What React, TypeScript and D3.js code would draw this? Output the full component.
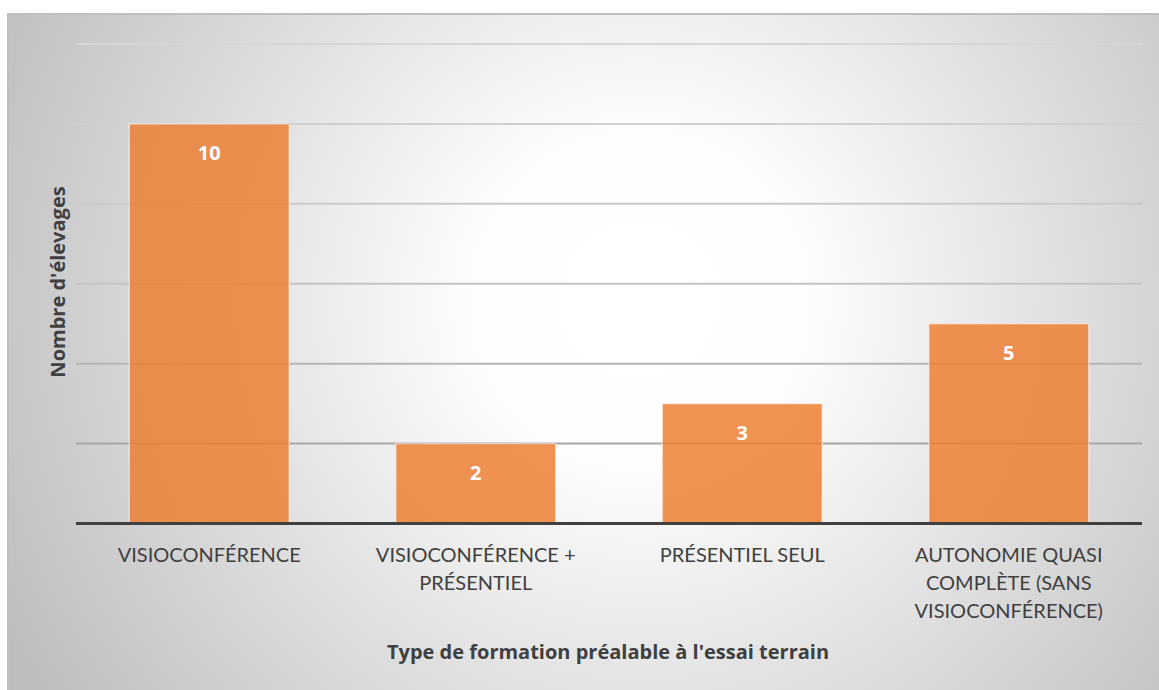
import React from "react";
import * as d3 from "d3";

const categories: string[][] = [
  ["VISIOCONFÉRENCE"],
  ["VISIOCONFÉRENCE +", "PRÉSENTIEL"],
  ["PRÉSENTIEL SEUL"],
  ["AUTONOMIE QUASI", "COMPLÈTE (SANS", "VISIOCONFÉRENCE)"],
];
const values: number[] = [10, 2, 3, 5];
const gridTicks: number[] = [0, 2, 4, 6, 8, 10, 12];
const xTitle = "Type de formation préalable à l'essai terrain";
const yTitle = "Nombre d'élevages";

const W = 1159;
const H = 690;
const FONT = "Lato, 'Open Sans', sans-serif";
const BOLD = "'Open Sans', Lato, sans-serif";

export default function App() {
  const left = 76;
  const right = 1142;
  const top = 44;
  const bottom = 523.5;

  const x = d3
    .scaleBand<number>()
    .domain(d3.range(values.length))
    .range([left, right])
    .paddingInner(0.4)
    .paddingOuter(0.2);
  const y = d3.scaleLinear().domain([0, 12]).range([bottom, top]);

  return (
    <svg
      width={W}
      height={H}
      style={{ position: "absolute", left: 0, top: 0, background: "#fff" }}
    >
      <defs>
        <radialGradient
          id="bg"
          gradientUnits="userSpaceOnUse"
          cx={640}
          cy={300}
          r={720}
        >
          <stop offset="0" stopColor="#ffffff" />
          <stop offset="0.22" stopColor="#fefefe" />
          <stop offset="1" stopColor="#bdbdbd" />
        </radialGradient>
        <linearGradient
          id="gridGrad"
          gradientUnits="userSpaceOnUse"
          x1={0}
          y1={top}
          x2={0}
          y2={bottom}
        >
          <stop offset="0" stopColor="#d6d6d6" />
          <stop offset="0.5" stopColor="#c4c4c4" />
          <stop offset="1" stopColor="#999999" />
        </linearGradient>
      </defs>
      <rect
        x={8}
        y={14}
        width={W}
        height={H}
        fill="url(#bg)"
        stroke="#bfbfbf"
        strokeWidth={2}
      />
      {gridTicks
        .filter((t) => t > 0)
        .map((t) => (
          <line
            key={t}
            x1={left}
            x2={right}
            y1={y(t)}
            y2={y(t)}
            stroke="url(#gridGrad)"
            strokeWidth={2}
          />
        ))}
      {values.map((v, i) => (
        <g key={i}>
          <rect
            x={x(i)!}
            y={y(v)}
            width={x.bandwidth()}
            height={y(0) - y(v)}
            fill="#ED7D31"
            fillOpacity={0.84}
            stroke="#ffffff"
            strokeOpacity={0.5}
            strokeWidth={1.5}
          />
          <text
            x={x(i)! + x.bandwidth() / 2}
            y={y(v) + 36}
            textAnchor="middle"
            fill="#ffffff"
            fontFamily={BOLD}
            fontWeight="bold"
            fontSize={20}
          >
            {v}
          </text>
        </g>
      ))}
      <line
        x1={left}
        x2={right}
        y1={y(0)}
        y2={y(0)}
        stroke="#404040"
        strokeWidth={3}
      />
      {categories.map((lines, i) => (
        <text
          key={i}
          x={x(i)! + x.bandwidth() / 2}
          y={562}
          textAnchor="middle"
          fill="#404040"
          fontFamily={FONT}
          fontSize={20}
        >
          {lines.map((l, j) => (
            <tspan key={j} x={x(i)! + x.bandwidth() / 2} dy={j === 0 ? 0 : 28}>
              {l}
            </tspan>
          ))}
        </text>
      ))}
      <text
        x={(left + right) / 2 - 1}
        y={659}
        textAnchor="middle"
        fill="#404040"
        fontFamily={BOLD}
        fontWeight="bold"
        fontSize={20}
      >
        {xTitle}
      </text>
      <text
        transform={`translate(65, ${282}) rotate(-90)`}
        textAnchor="middle"
        fill="#404040"
        fontFamily={BOLD}
        fontWeight="bold"
        fontSize={20}
      >
        {yTitle}
      </text>
    </svg>
  );
}
